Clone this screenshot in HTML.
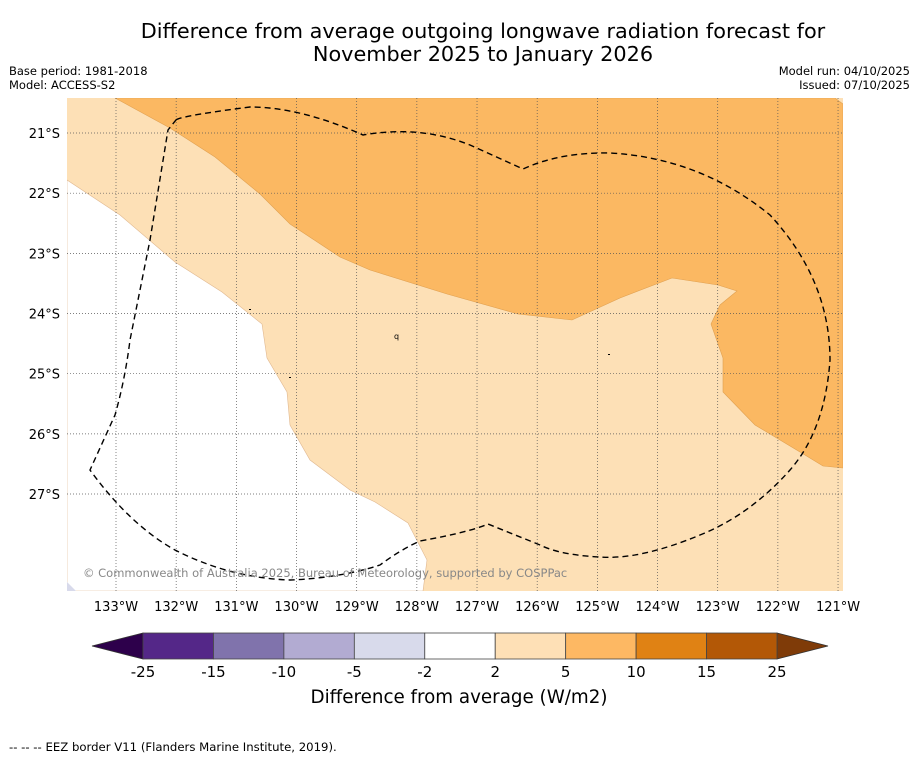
<!DOCTYPE html>
<html><head><meta charset="utf-8"><style>
body{margin:0;background:#fff;width:919px;height:758px;overflow:hidden;font-family:"DejaVu Sans","Liberation Sans",sans-serif}
svg text{font-family:"DejaVu Sans","Liberation Sans",sans-serif}
</style></head><body>
<svg id="c" width="919" height="758" viewBox="0 0 919 758">
<text x="483" y="38" font-size="20.8" text-anchor="middle">Difference from average outgoing longwave radiation forecast for</text>
<text x="483" y="61" font-size="20.8" text-anchor="middle">November 2025 to January 2026</text>
<text x="9" y="75" font-size="11.5">Base period: 1981-2018</text>
<text x="9" y="89" font-size="11.5">Model: ACCESS-S2</text>
<text x="910" y="75" font-size="11.5" text-anchor="end">Model run: 04/10/2025</text>
<text x="910" y="89" font-size="11.5" text-anchor="end">Issued: 07/10/2025</text>
<defs><clipPath id="mc"><rect x="67" y="98" width="776" height="493"/></clipPath></defs>
<g clip-path="url(#mc)">
<rect x="67" y="98" width="776" height="493" fill="#fde0b6"/>
<polygon fill="#ffffff" stroke="#e0b890" stroke-width="0.6" points="67,180 120,215 175,262 222,292 262,324 267,358 287,392 290,425 310,460 350,490 375,502 408,523 427,560 423,591 67,591"/>
<polygon fill="#d8daeb" points="67,582 76,591 67,591"/>
<polygon fill="#fbb862" stroke="#e0a050" stroke-width="0.6" points="115,98 835,98 843,104 843,468 823,466 800,452 755,425 723,392 723,358 711,324 720,305 737,291 718,285 672,278 620,298 572,320 518,314 447,294 370,270 340,257 290,224 260,194 215,157 170,128"/>
<g id="grid"></g>
<path fill="none" stroke="#000" stroke-width="1.4" stroke-dasharray="6,4" d="M176,120 Q180,116 250,107 Q300,107 363,135 Q420,125 470,145 L523,169 Q560,152 610,153 Q700,158 770,215 Q830,280 830,360 Q825,430 790,470 Q750,515 700,535 Q640,560 600,557 Q560,555 540,545 L488,524 Q470,532 420,541 Q400,550 380,565 Q340,578 290,580 Q230,578 175,550 Q130,525 90,470 L115,415 Q125,380 130,340 Q140,290 150,240 L168,130 Z"/>
<text x="83" y="577" font-size="11.5" fill="#888">© Commonwealth of Australia 2025, Bureau of Meteorology, supported by COSPPac</text>
<text x="394" y="339" font-size="8">q</text>
<rect x="249" y="309" width="2" height="1" fill="#000"/>
<rect x="289" y="377" width="2" height="1" fill="#000"/>
<rect x="608" y="354" width="2" height="1" fill="#000"/>
</g>
<g id="axes"></g>
<g id="cbar"></g>
<text x="459" y="703" font-size="18.3" text-anchor="middle">Difference from average (W/m2)</text>
<text x="9" y="751" font-size="11.7">--  --  -- EEZ border V11 (Flanders Marine Institute, 2019).</text>
</svg>
<script>
const lonTicks=[133,132,131,130,129,128,127,126,125,124,123,122,121];
const latTicks=[21,22,23,24,25,26,27];
const cbBounds=[-25,-15,-10,-5,-2,2,5,10,15,25];
const cbColors=["#542788","#8073ac","#b2abd2","#d8daeb","#ffffff","#fee0b6","#fdb863","#e08214","#b35806"];
const cbExtendLow="#2d004b", cbExtendHigh="#7f3b08";
const NS="http://www.w3.org/2000/svg";
function mk(t,a,p){const e=document.createElementNS(NS,t);for(const k in a)e.setAttribute(k,a[k]);p.appendChild(e);return e;}
const xLon=l=>116+(133-l)*60.17;
const yLat=l=>133+(l-21)*60.17;
const grid=document.getElementById('grid'),axes=document.getElementById('axes'),cb=document.getElementById('cbar');
lonTicks.forEach(l=>{
 const ln=mk('line',{x1:xLon(l),x2:xLon(l),y1:98,y2:591,stroke:'#555','stroke-width':0.7,'stroke-dasharray':'1,2'},grid);
 
 
 const t=mk('text',{x:xLon(l),y:611,'font-size':13,'text-anchor':'middle'},axes);t.textContent=l+'°W';
 
 
});
latTicks.forEach(l=>{
 const ln=mk('line',{x1:67,x2:843,y1:yLat(l),y2:yLat(l),stroke:'#555','stroke-width':0.7,'stroke-dasharray':'1,2'},grid);
 
 
 const t=mk('text',{x:60,y:yLat(l)+5,'font-size':13,'text-anchor':'end'},axes);t.textContent=l+'°S';
 
 
});
const x0=143,x1=777,n=cbBounds.length-1,w=(x1-x0)/n,yT=633,yB=659;
const lo=mk('polygon',{points:`${x0},${yT} ${x0},${yB} 92,646`,fill:cbExtendLow,stroke:'#333','stroke-width':0.8},cb);


const hi=mk('polygon',{points:`${x1},${yT} ${x1},${yB} 828,646`,fill:cbExtendHigh,stroke:'#333','stroke-width':0.8},cb);


cbColors.forEach((c,i)=>{
 const r=mk('rect',{x:x0+i*w,y:yT,width:w,height:yB-yT,fill:c,stroke:'#444','stroke-width':0.8},cb);
 
 
});
cbBounds.forEach((b,i)=>{
 const t=mk('text',{x:x0+i*w,y:677,'font-size':15,'text-anchor':'middle'},cb);t.textContent=b;
 
 
});
</script>
</body></html>
